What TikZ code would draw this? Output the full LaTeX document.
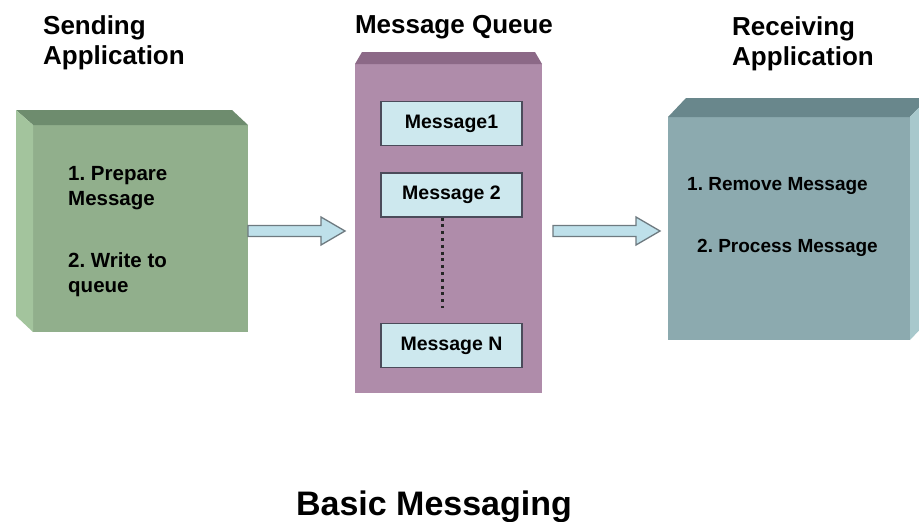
\documentclass[tikz,border=0pt]{standalone}
\usepackage{fontspec}
\setmainfont{Liberation Sans}
\usetikzlibrary{calc}
\frenchspacing

\definecolor{greenfront}{HTML}{91AF8C}
\definecolor{greentop}{HTML}{6E8C6E}
\definecolor{greenside}{HTML}{A3C49D}
\definecolor{purplefront}{HTML}{AF8CAA}
\definecolor{purpletop}{HTML}{8C6987}
\definecolor{bluefront}{HTML}{8CAAAF}
\definecolor{bluetop}{HTML}{69878C}
\definecolor{blueside}{HTML}{A8C8CC}
\definecolor{msgfill}{HTML}{CDE8EE}
\definecolor{msgdraw}{HTML}{4B4B5A}
\definecolor{arrowfill}{HTML}{BEE0EA}
\definecolor{arrowdraw}{HTML}{6E7A80}

\tikzset{
  face/.style={inner sep=0pt, outer sep=0pt, draw=none},
  msgbox/.style={draw=msgdraw, line width=1.2pt, fill=msgfill, inner sep=0pt,
    minimum width=141pt, minimum height=44pt, font=\fontsize{19.5}{22}\selectfont\bfseries},
  steptext/.style={inner sep=0pt, anchor=base west, align=left},
  heading/.style={inner sep=0pt, anchor=base west, align=left,
    font=\fontsize{26}{29.5}\selectfont\bfseries},
  blockarrow/.style={draw=arrowdraw, line width=1.3pt, fill=arrowfill, line join=miter},
  dotline/.style={draw=black!85, line width=3pt, dash pattern=on 3pt off 3.8pt}
}

% block arrow from #1 to tip #2 (horizontal)
\newcommand\flowarrow[2]{%
  \draw[blockarrow] let \p1=(#1), \p2=(#2) in
    (\x1,{\y1+5.5pt}) -- ({\x2-24pt},{\y1+5.5pt}) -- ({\x2-24pt},{\y1+14pt})
    -- (\x2,\y1) -- ({\x2-24pt},{\y1-14pt}) -- ({\x2-24pt},{\y1-5.5pt})
    -- (\x1,{\y1-5.5pt}) -- cycle;}

\begin{document}
\begin{tikzpicture}[x=1pt,y=-1pt]
\useasboundingbox (0,0) rectangle (919,522);
\begin{scope}
\clip (0,0) rectangle (919,522);

% sending application cube
\node[face, fill=greenfront, minimum width=215pt, minimum height=207pt] (send) at (140.5,228.5) {};
\fill[greentop] (send.north west) -- ++(-17,-15) -- ($(send.north east)+(-16,-15)$) -- (send.north east) -- cycle;
\fill[greenside] (send.north west) -- ++(-17,-15) -- ($(send.south west)+(-17,-16)$) -- (send.south west) -- cycle;

% message queue block
\node[face, fill=purplefront, minimum width=187pt, minimum height=329pt] (queue) at (448.5,228.5) {};
\fill[purpletop] (queue.north west) -- ++(7,-12) -- ($(queue.north east)+(-7,-12)$) -- (queue.north east) -- cycle;

% receiving application cube
\node[face, fill=bluefront, minimum width=242pt, minimum height=223pt] (recv) at (789,228.5) {};
\fill[bluetop] (recv.north west) -- ++(18,-19) -- ($(recv.north east)+(18,-19)$) -- (recv.north east) -- cycle;
\fill[blueside] (recv.north east) -- ++(18,-19) -- ($(recv.south east)+(18,-19)$) -- (recv.south east) -- cycle;
\end{scope}

% queued messages
\node[msgbox] (m1) at (451.5,123.5) {Message1};
\node[msgbox] (m2) at (451.5,195) {Message 2};
\node[msgbox] (mn) at (451.5,345.5) {Message N};
\draw[dotline] ($(m2.south)+(-9.5,0)$) -- ($(mn.north)+(-9.5,-15)$);

% flow arrows
\flowarrow{$(send.east)+(0,2.5)$}{$(queue.west)+(-10,2.5)$}
\flowarrow{$(queue.east)+(11,2.5)$}{$(recv.west)+(-8,2.5)$}

% step texts (anchored at the baseline of the last line)
\node[steptext, font=\fontsize{20.5}{25}\selectfont\bfseries] (s1) at (68,205) {1. Prepare\\Message};
\node[steptext, font=\fontsize{20.5}{25}\selectfont\bfseries] (s2) at (68,292) {2. Write to\\queue};
\node[steptext, font=\fontsize{19}{23}\selectfont\bfseries] (r1) at (687,190) {1. Remove Message};
\node[steptext, font=\fontsize{19}{23}\selectfont\bfseries] (r2) at (697,252) {2. Process Message};

% headings
\node[heading] (hs) at (43,64) {Sending\\Application};
\node[heading, anchor=base] (hq) at (454,34) {Message Queue};
\node[heading] (hr) at (732,65) {Receiving\\Application};
\node[inner sep=0pt, anchor=base, font=\fontsize{34}{40}\selectfont\bfseries] (title) at (434,515) {Basic Messaging};
\end{tikzpicture}
\end{document}
